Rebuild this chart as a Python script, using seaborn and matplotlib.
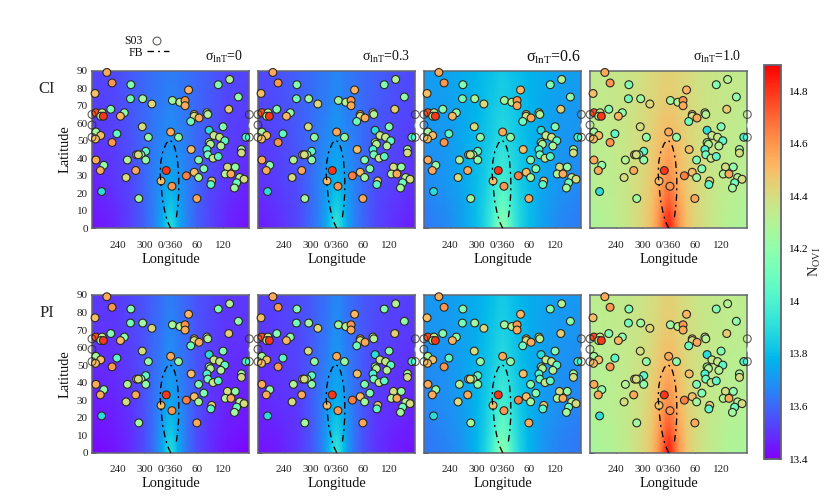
import numpy as np
import pandas as pd
import matplotlib
matplotlib.use("Agg")
import matplotlib.pyplot as plt
from matplotlib.cm import ScalarMappable
from matplotlib.colors import Normalize
import seaborn as sns

sns.set_style("white")
plt.rcParams['font.family'] = ['Liberation Serif', 'DejaVu Serif']
plt.rcParams['mathtext.fontset'] = 'custom'
plt.rcParams['mathtext.rm'] = 'Liberation Serif'
plt.rcParams['mathtext.it'] = 'Liberation Serif'

# absorber sightlines
pt_lon = [-146,-134,-91,135,109,-173,41,-92,-64,-43,155,4,21,33,33,-137,133,-171,-157,-160,-106,-115,-154,54,54,65,83,85,46,-65,120,88,0,-171,-123,-160,-51,18,99,112,124,172,-172,-134,88,91,115,162,162,47,83,-57,-68,85,-78,-74,-99,-57,97,109,-171,64,130,148,76,-153,-161,-80,-10,54,36,-102,64,125,138,158,168,-22,94,92,151,3,146,-158,-73,60]
pt_lat = [89,83,82,85,82,77,79,74,74,71,75,73,72,73,70,68,68,66,66,64,66,64,64,65,64,63,66,65,61,58,58,56,55,55,54,53,52,52,53,52,50,52,51,49,49,48,47,45,43,45,45,44,42,42,42,42,39,39,40,41,39,39,35,35,34,36,33,33,33,32,30,29,29,31,31,29,28,27,27,25,26,24,23,21,17,17]
pt_val = [14.55,14.6,14.15,14.3,14.15,14.5,14.52,14.12,14.25,14.42,14.2,14.25,14.3,14.6,14.55,14.15,14.45,14.75,14.35,14.3,14.2,14.52,14.8,14.5,14.4,14.55,14.35,14.3,14.1,14.4,14.15,13.9,14.55,14.25,14.05,14.5,14.2,14.2,14.35,14.35,14.05,14.0,14.5,14.6,14.25,14.3,14.3,14.25,14.4,14.5,14.0,14.05,14.1,14.1,14.55,14.4,14.3,14.2,14.35,14.05,14.55,14.15,14.4,14.2,14.15,14.2,14.55,14.55,14.8,14.5,14.65,14.4,14.25,14.3,14.55,14.3,14.4,14.5,14.45,14.05,14.1,14.6,14.25,13.9,14.25,14.55]
edge_left_lat = [65, 59, 52]
edge_right_lat = [65, 52]
sliver_lon = [186]
sliver_lat = [59]
sliver_val = [14.25]

# FB bubble outline
fb_lon = [0,-7,-12.5,-18.6,-21.7,-24,-22.5,-18,-10,-2.5,5,10,15.6,18.6,18.6,16.4,12.5]
fb_lat = [0,3.8,8.6,16,23.8,31.4,38,43.8,48.5,50.4,49,45.7,39,29.5,20,12.4,5]

# background model grid (mirrored in longitude)
grid_lon = [0,8,16,25,40,60,90,130,180]
grid_lat = [0,10,25,50,70,90]
field_s0 = [[13.90,13.86,13.79,13.72,13.65,13.59,13.53,13.47,13.43],
            [13.85,13.82,13.76,13.71,13.65,13.59,13.53,13.48,13.45],
            [13.76,13.74,13.72,13.69,13.65,13.60,13.54,13.50,13.47],
            [13.69,13.68,13.67,13.66,13.64,13.60,13.56,13.52,13.50],
            [13.66,13.66,13.65,13.64,13.63,13.60,13.57,13.53,13.52],
            [13.64,13.64,13.64,13.63,13.62,13.60,13.58,13.54,13.53]]
field_s3 = [[13.94,13.90,13.82,13.74,13.66,13.60,13.54,13.49,13.45],
            [13.88,13.85,13.79,13.73,13.66,13.60,13.54,13.50,13.47],
            [13.79,13.77,13.74,13.71,13.66,13.61,13.55,13.52,13.49],
            [13.71,13.70,13.69,13.67,13.65,13.61,13.57,13.54,13.51],
            [13.68,13.68,13.66,13.65,13.64,13.61,13.58,13.55,13.53],
            [13.66,13.66,13.65,13.64,13.63,13.61,13.59,13.56,13.54]]
field_s6 = [[14.18,14.15,14.07,13.98,13.88,13.80,13.73,13.67,13.64],
            [14.12,14.09,14.02,13.95,13.87,13.80,13.73,13.68,13.65],
            [14.00,13.98,13.95,13.91,13.85,13.80,13.74,13.70,13.67],
            [13.90,13.89,13.87,13.85,13.82,13.79,13.75,13.71,13.69],
            [13.86,13.85,13.84,13.83,13.81,13.78,13.75,13.72,13.71],
            [13.83,13.83,13.82,13.81,13.80,13.78,13.76,13.73,13.72]]
field_s10 = [[14.85,14.79,14.69,14.60,14.50,14.43,14.37,14.31,14.28],
             [14.77,14.73,14.65,14.58,14.49,14.43,14.37,14.32,14.29],
             [14.64,14.62,14.58,14.53,14.47,14.42,14.37,14.33,14.31],
             [14.52,14.51,14.50,14.48,14.44,14.41,14.37,14.34,14.32],
             [14.46,14.46,14.45,14.44,14.42,14.40,14.37,14.35,14.33],
             [14.44,14.44,14.43,14.42,14.41,14.39,14.37,14.35,14.34]]
# PI row sits a little lower away from the centre column
pi_shift_low = [0,0,-0.01,-0.02,-0.03,-0.04,-0.04,-0.03,-0.02]
pi_shift_high = [0,0,-0.005,-0.01,-0.015,-0.02,-0.02,-0.015,-0.01]
row_shifts = [None, [pi_shift_low, pi_shift_low, pi_shift_high, pi_shift_high]]

row_names = ["CI", "PI"]
sigma_titles = [r"$\mathrm{\sigma_{lnT}}$=0", r"$\mathrm{\sigma_{lnT}}$=0.3",
                r"$\mathrm{\sigma_{lnT}}$=0.6", r"$\mathrm{\sigma_{lnT}}$=1.0"]
fields = [field_s0, field_s3, field_s6, field_s10]
lon_ticks = [-120,-60,0,60,120]
lon_labels = ["240","300","0/360","60","120"]
lat_ticks = list(range(0,91,10))
cbar_ticks = [13.4,13.6,13.8,14,14.2,14.4,14.6,14.8]
cbar_labels = ["13.4","13.6","13.8","14","14.2","14.4","14.6","14.8"]

W, H = 830, 498
fig = plt.figure(figsize=(W/100, H/100), dpi=100)
norm = Normalize(13.4, 14.9)
def axpx(l, t, r, b):
    return fig.add_axes([l/W, 1-b/H, (r-l)/W, (b-t)/H])

df = pd.DataFrame({"lon": pt_lon, "lat": pt_lat, "val": pt_val})
sliver_df = pd.DataFrame({"lon": sliver_lon, "lat": sliver_lat, "val": sliver_val})
edge_df = pd.DataFrame({"lon": [-180]*len(edge_left_lat) + [180]*len(edge_right_lat),
                        "lat": edge_left_lat + edge_right_lat})
fb_df = pd.DataFrame({"lon": fb_lon, "lat": fb_lat})
lefts = [92, 258, 424, 590]
tops = [(70.7, 228.3), (295, 452.7)]
frame = "#62656f"
MS = 32
EC = "#2a2a20"
FB_LS = (0, (5, 3, 1.5, 3))
for r, (t, b) in enumerate(tops):
    for c, l in enumerate(lefts):
        ax = axpx(l, t, l+157.3, b)
        half = np.array(fields[c])
        if row_shifts[r] is not None:
            half = half + np.array(row_shifts[r][c])
        Z = np.hstack([half[:, :0:-1], half])
        X = np.r_[-np.array(grid_lon[:0:-1]), grid_lon]
        ax.pcolormesh(X, grid_lat, Z, cmap="rainbow", norm=norm, shading="gouraud", zorder=1)
        sns.scatterplot(data=sliver_df, x="lon", y="lat", hue="val", palette="rainbow", hue_norm=norm,
                        s=MS, linewidth=0, legend=False, ax=ax, zorder=3, clip_on=True)
        sns.scatterplot(data=df, x="lon", y="lat", hue="val", palette="rainbow", hue_norm=norm,
                        s=MS, linewidth=0.8, edgecolor=EC, legend=False, ax=ax, zorder=3, clip_on=False)
        ax.scatter(edge_df.lon, edge_df.lat, s=MS, facecolors="none", edgecolors=EC,
                   linewidths=0.8, zorder=4, clip_on=False, alpha=0.75)
        sns.lineplot(data=fb_df, x="lon", y="lat", sort=False, estimator=None, ax=ax, color="black",
                     lw=0.95, ls=FB_LS, zorder=5, legend=False)
        ax.set_xlim(-180, 180); ax.set_ylim(0, 90)
        ax.set_xticks(lon_ticks); ax.set_xticklabels(lon_labels)
        ax.set_yticks(lat_ticks)
        ax.tick_params(axis="both", which="major", direction="in", length=3, width=0.6,
                       color="#222222", labelsize=8, labelcolor="#222222", top=True, bottom=True, left=True, right=False)
        ax.tick_params(axis="x", pad=9)
        ax.tick_params(axis="y", pad=3, labelleft=(c == 0))
        for s in ax.spines.values():
            s.set_color(frame); s.set_linewidth(1.1); s.set_visible(True); s.set_zorder(2)
        ax.set_xlabel("Longitude", fontsize=10.4, labelpad=2, color="#111111")
        if c == 0:
            ax.set_ylabel("Latitude", fontsize=10.4, labelpad=4, color="#111111")
        else:
            ax.set_ylabel("")

title_x = [243, 410, 581, 741]
title_fs = [10, 10, 11.5, 10]
for x, s, fs in zip(title_x, sigma_titles, title_fs):
    fig.text(x/W, 1-57/H, s, ha="right", va="center", fontsize=fs, color="#111111")
fig.text(47/W, 1-89/H, row_names[0], ha="center", va="center", fontsize=12)
fig.text(47/W, 1-313/H, row_names[1], ha="center", va="center", fontsize=12)

# manual key
fig.text(143/W, 1-41/H, "S03", ha="right", va="center", fontsize=8.5, color="#111111")
fig.text(143/W, 1-52.5/H, "FB", ha="right", va="center", fontsize=8.5, color="#111111")
ov = fig.add_axes([0, 0, 1, 1], facecolor="none")
ov.set_xlim(0, W); ov.set_ylim(H, 0); ov.axis("off")
ov.scatter([157], [41], s=MS, facecolors="none", edgecolors=EC, linewidths=0.8, alpha=0.75)
ov.plot([147, 169], [51, 51], color="black", lw=0.95, ls=FB_LS)

cax = axpx(764, 65, 781, 459)
cb = fig.colorbar(ScalarMappable(norm=norm, cmap="rainbow"), cax=cax)
cb.set_ticks(cbar_ticks); cb.set_ticklabels(cbar_labels)
cb.ax.tick_params(direction="in", length=3, width=0.6, labelsize=8, pad=6, color="#222222",
                  labelcolor="#000000", left=True, right=True)
cb.outline.set_edgecolor(frame); cb.outline.set_linewidth(1.3)
fig.text(815/W, 1-262/H, r"N$_{\mathrm{OVI}}$", rotation=90, ha="center", va="center", fontsize=10.4)

fig.savefig("out.png", dpi=100)
